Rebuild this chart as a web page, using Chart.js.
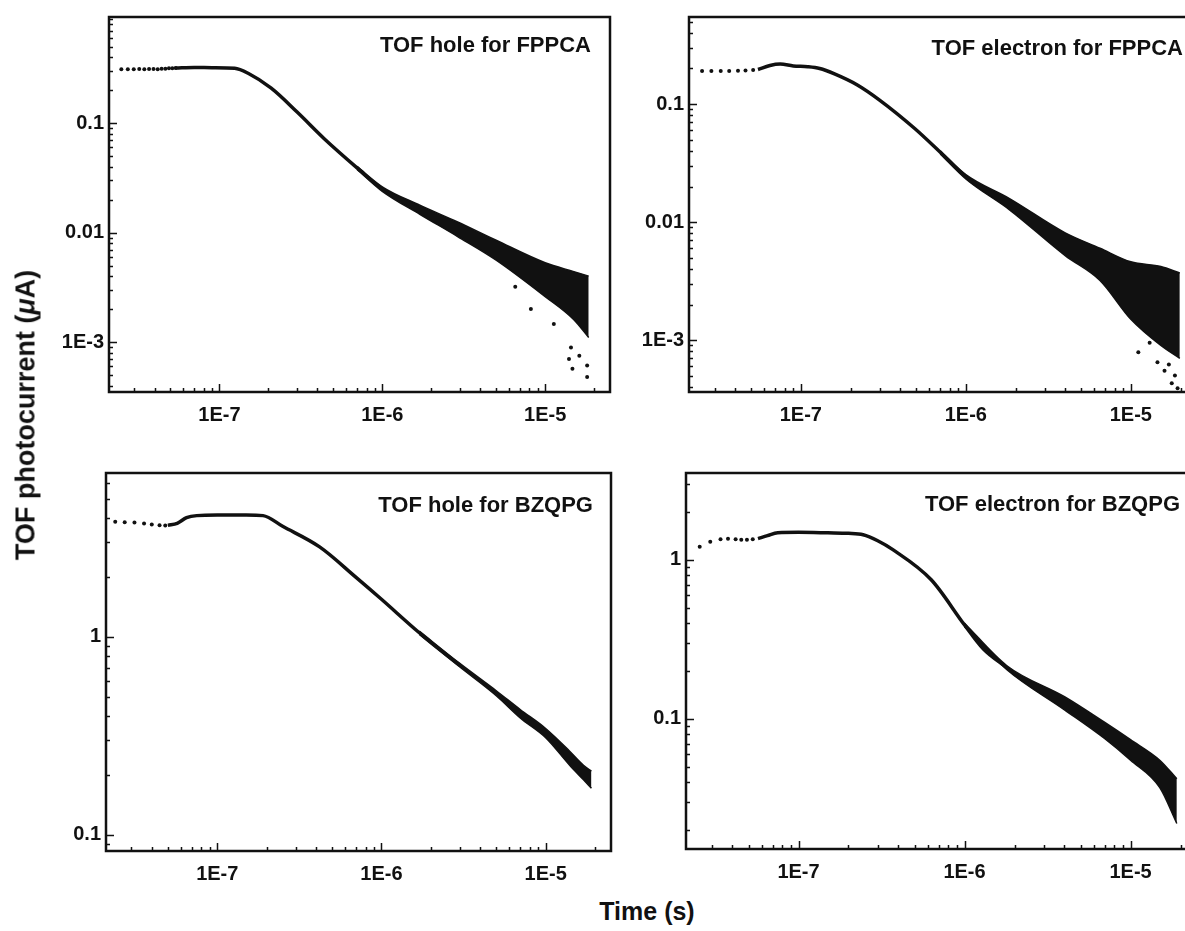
<!DOCTYPE html>
<html>
<head>
<meta charset="utf-8">
<script src="https://cdn.jsdelivr.net/npm/chart.js@4.4.1/dist/chart.umd.min.js"></script>
<style>
    body { margin: 0; background: #fff; }
    #page { position: relative; width: 1185px; height: 931px; overflow: hidden; background: #fff; }
    canvas { position: absolute; }
    .lbl {
        position: absolute;
        font-family: 'Liberation Sans', Arial, Helvetica, sans-serif;
        font-weight: bold;
        color: #111;
        white-space: nowrap;
        line-height: 1;
    }
    .panel-title { font-size: 22px; }
    .axis-title { font-size: 27px; }
</style>
</head>
<body>
<div id="page">
    <canvas id="hf" width="620" height="450" style="left:0px;top:-20px"></canvas>
    <canvas id="ef" width="620" height="450" style="left:600px;top:-20px"></canvas>
    <canvas id="hb" width="620" height="460" style="left:0px;top:430px"></canvas>
    <canvas id="eb" width="620" height="460" style="left:600px;top:430px"></canvas>

    <div class="lbl panel-title" style="right:594px;top:34px">TOF hole for FPPCA</div>
    <div class="lbl panel-title" style="right:2px;top:37px">TOF electron for FPPCA</div>
    <div class="lbl panel-title" style="right:592px;top:494px">TOF hole for BZQPG</div>
    <div class="lbl panel-title" style="right:5px;top:493px">TOF electron for BZQPG</div>

    <div class="lbl axis-title" style="left:26px;top:415px;transform:translate(-50%,-50%) rotate(-90deg)">TOF photocurrent (<i>&mu;</i>A)</div>
    <div class="lbl axis-title" style="left:647px;top:899px;transform:translateX(-50%);font-size:25px">Time (s)</div>
</div>

<script>
// Tick labels
const xTickValues = [1e-7, 1e-6, 1e-5];
const xTickLabels = ['1E-7', '1E-6', '1E-5'];
const fppcaTickValues = [1e-3, 1e-2, 1e-1];
const fppcaTickLabels = ['1E-3', '0.01', '0.1'];
const bzqpgTickValues = [0.1, 1];
const bzqpgTickLabels = ['0.1', '1'];

// TOF hole for FPPCA
const hfDotTime = [2.5e-8, 2.74e-8, 2.98e-8, 3.22e-8, 3.46e-8, 3.7e-8, 3.94e-8, 4.18e-8, 4.42e-8, 4.66e-8, 4.9e-8, 5.14e-8, 5.38e-8];
const hfDotCurr = [0.31, 0.31, 0.31, 0.312, 0.31, 0.312, 0.312, 0.31, 0.314, 0.314, 0.316, 0.316, 0.318];
const hfLineTime = [5.4e-8, 7e-8, 9e-8, 1.24e-7, 1.5e-7, 2.08e-7, 3e-7, 4.4e-7, 7e-7, 1e-6, 1.7e-6];
const hfLineCurr = [0.318, 0.322, 0.32, 0.316, 0.285, 0.208, 0.126, 0.072, 0.039, 0.025, 0.0162];
const hfBandTime = [7e-7, 1e-6, 1.7e-6, 2.9e-6, 5e-6, 1e-5, 1.5e-5, 1.85e-5];
const hfBandHigh = [0.0402, 0.0262, 0.0178, 0.0125, 0.0085, 0.0053, 0.0044, 0.0040];
const hfBandLow = [0.0378, 0.0238, 0.0147, 0.0092, 0.0056, 0.0026, 0.0016, 0.0011];
const hfOutTime = [6.55e-6, 8.17e-6, 1.13e-5, 1.44e-5, 1.40e-5, 1.47e-5, 1.62e-5, 1.81e-5, 1.81e-5];
const hfOutCurr = [0.0032, 0.002, 0.00146, 0.00089, 0.0007, 0.00057, 0.00075, 0.00061, 0.00048];

// TOF electron for FPPCA
const efDotTime = [2.52e-8, 2.87e-8, 3.27e-8, 3.68e-8, 4.16e-8, 4.62e-8, 5.14e-8];
const efDotCurr = [0.19, 0.19, 0.19, 0.19, 0.191, 0.192, 0.194];
const efLineTime = [5.5e-8, 6.5e-8, 7.5e-8, 9e-8, 1.1e-7, 1.3e-7, 1.6e-7, 2.2e-7, 3e-7, 4.9e-7, 7e-7, 1e-6, 1.84e-6];
const efLineCurr = [0.196, 0.212, 0.218, 0.21, 0.207, 0.2, 0.18, 0.145, 0.108, 0.062, 0.039, 0.0242, 0.0142];
const efBandTime = [7e-7, 1e-6, 1.84e-6, 4e-6, 6.5e-6, 1e-5, 1.52e-5, 1.98e-5];
const efBandHigh = [0.0402, 0.0252, 0.0158, 0.0081, 0.006, 0.0046, 0.0042, 0.0037];
const efBandLow = [0.0378, 0.0232, 0.0127, 0.0052, 0.0032, 0.0015, 0.0009, 0.0007];
const efOutTime = [1.11e-5, 1.3e-5, 1.45e-5, 1.6e-5, 1.7e-5, 1.77e-5, 1.85e-5, 1.92e-5];
const efOutCurr = [0.00079, 0.00095, 0.00065, 0.00055, 0.00062, 0.00043, 0.0005, 0.00039];

// TOF hole for BZQPG
const hbDotTime = [2.39e-8, 2.73e-8, 3.13e-8, 3.58e-8, 3.99e-8, 4.45e-8, 4.82e-8];
const hbDotCurr = [3.82, 3.8, 3.78, 3.74, 3.7, 3.67, 3.66];
const hbLineTime = [5e-8, 5.7e-8, 6.5e-8, 7.5e-8, 1e-7, 1.5e-7, 1.9e-7, 2.5e-7, 4.2e-7, 7e-7, 1e-6, 1.7e-6, 3e-6];
const hbLineCurr = [3.66, 3.75, 4.0, 4.1, 4.13, 4.13, 4.1, 3.62, 2.85, 2.0, 1.55, 1.05, 0.72];
const hbBandTime = [1.7e-6, 3e-6, 5e-6, 7e-6, 1e-5, 1.4e-5, 1.7e-5, 1.9e-5];
const hbBandHigh = [1.07, 0.735, 0.535, 0.43, 0.345, 0.265, 0.225, 0.21];
const hbBandLow = [1.03, 0.705, 0.505, 0.39, 0.31, 0.225, 0.19, 0.172];

// TOF electron for BZQPG
const ebDotTime = [2.54e-8, 2.94e-8, 3.39e-8, 3.76e-8, 4.18e-8, 4.52e-8, 4.89e-8, 5.3e-8];
const ebDotCurr = [1.21, 1.30, 1.35, 1.36, 1.35, 1.34, 1.34, 1.35];
const ebLineTime = [5.7e-8, 6.5e-8, 7.5e-8, 1e-7, 1.5e-7, 2e-7, 2.45e-7, 3e-7, 3.7e-7, 6.3e-7, 1e-6, 1.3e-6, 1.8e-6];
const ebLineCurr = [1.36, 1.42, 1.48, 1.49, 1.48, 1.47, 1.44, 1.32, 1.16, 0.75, 0.39, 0.275, 0.21];
const ebBandTime = [1e-6, 1.8e-6, 4e-6, 7e-6, 1e-5, 1.5e-5, 1.9e-5];
const ebBandHigh = [0.4, 0.216, 0.138, 0.095, 0.074, 0.055, 0.042];
const ebBandLow = [0.38, 0.204, 0.114, 0.075, 0.055, 0.037, 0.022];

const INK = '#111';
const FONT = "'Liberation Sans', Arial, Helvetica, sans-serif";

function pts(times, values) {
    return times.map((t, i) => ({ x: t, y: values[i] }));
}

function isDecade(v) {
    const e = Math.log10(v);
    return Math.abs(e - Math.round(e)) < 1e-6;
}

// minor ticks at 1..9 of every decade inside the axis range
function logTicks(min, max) {
    const out = [];
    for (let e = Math.floor(Math.log10(min)); e <= Math.ceil(Math.log10(max)); e++) {
        for (let k = 1; k <= 9; k++) {
            const v = k * Math.pow(10, e);
            if (v >= min && v <= max) out.push({ value: v });
        }
    }
    return out;
}

function labelFor(values, labels) {
    return (v) => {
        const i = values.findIndex(t => Math.abs(t - v) / t < 1e-6);
        return i < 0 ? '' : labels[i];
    };
}

// box frame plus inward tick marks
const frameTicks = {
    id: 'frameTicks',
    afterDraw(chart) {
        const { ctx, chartArea: a, scales: { x, y } } = chart;
        ctx.save();
        ctx.strokeStyle = INK;
        ctx.lineWidth = 1.5;
        ctx.beginPath();
        x.ticks.forEach(t => {
            const px = Math.round(x.getPixelForValue(t.value)) + 0.5;
            const len = isDecade(t.value) ? 8 : 4;
            ctx.moveTo(px, a.bottom);
            ctx.lineTo(px, a.bottom - len);
        });
        y.ticks.forEach(t => {
            const py = Math.round(y.getPixelForValue(t.value)) + 0.5;
            const len = isDecade(t.value) ? 8 : 4;
            ctx.moveTo(a.left, py);
            ctx.lineTo(a.left + len, py);
        });
        ctx.stroke();
        ctx.lineWidth = 2.5;
        ctx.strokeRect(a.left, a.top, a.right - a.left, a.bottom - a.top);
        ctx.restore();
    }
};

const panels = [
    { id: 'hf', dotT: hfDotTime, dotI: hfDotCurr, lineT: hfLineTime, lineI: hfLineCurr,
      bandT: hfBandTime, bandHi: hfBandHigh, bandLo: hfBandLow, outT: hfOutTime, outI: hfOutCurr,
      yMin: 3.5e-4, yMax: 0.93, yTicks: fppcaTickValues, yLabels: fppcaTickLabels,
      padTop: 37, padRight: 10, yWidth: 109, xHeight: 38 },
    { id: 'ef', dotT: efDotTime, dotI: efDotCurr, lineT: efLineTime, lineI: efLineCurr,
      bandT: efBandTime, bandHi: efBandHigh, bandLo: efBandLow, outT: efOutTime, outI: efOutCurr,
      yMin: 3.63e-4, yMax: 0.546, yTicks: fppcaTickValues, yLabels: fppcaTickLabels,
      padTop: 37, padRight: 23.5, yWidth: 89, xHeight: 38 },
    { id: 'hb', dotT: hbDotTime, dotI: hbDotCurr, lineT: hbLineTime, lineI: hbLineCurr,
      bandT: hbBandTime, bandHi: hbBandHigh, bandLo: hbBandLow, outT: [], outI: [],
      yMin: 0.083, yMax: 6.73, yTicks: bzqpgTickValues, yLabels: bzqpgTickLabels,
      padTop: 43, padRight: 9, yWidth: 106, xHeight: 39 },
    { id: 'eb', dotT: ebDotTime, dotI: ebDotCurr, lineT: ebLineTime, lineI: ebLineCurr,
      bandT: ebBandTime, bandHi: ebBandHigh, bandLo: ebBandLow, outT: [], outI: [],
      yMin: 0.0152, yMax: 3.52, yTicks: bzqpgTickValues, yLabels: bzqpgTickLabels,
      padTop: 43, padRight: 23.4, yWidth: 86, xHeight: 41 }
];

const tickFont = { family: FONT, size: 20, weight: 'bold' };

panels.forEach(p => {
    const ctx = document.getElementById(p.id).getContext('2d');
    new Chart(ctx, {
        type: 'line',
        data: {
            datasets: [
                { data: pts(p.bandT, p.bandHi), borderColor: INK, borderWidth: 1.5, pointRadius: 0,
                  cubicInterpolationMode: 'monotone', fill: false },
                { data: pts(p.bandT, p.bandLo), borderColor: INK, borderWidth: 1.5, pointRadius: 0,
                  cubicInterpolationMode: 'monotone', fill: '-1', backgroundColor: INK },
                { data: pts(p.lineT, p.lineI), borderColor: INK, borderWidth: 3.5, pointRadius: 0,
                  cubicInterpolationMode: 'monotone', fill: false },
                { data: pts(p.dotT, p.dotI), showLine: false, pointRadius: 2, pointBorderWidth: 0,
                  pointBackgroundColor: INK },
                { data: pts(p.outT, p.outI), showLine: false, pointRadius: 2, pointBorderWidth: 0,
                  pointBackgroundColor: INK }
            ]
        },
        options: {
            responsive: false,
            animation: false,
            events: [],
            layout: { padding: { top: p.padTop, right: p.padRight, left: 0, bottom: 0 } },
            plugins: {
                legend: { display: false },
                tooltip: { enabled: false }
            },
            scales: {
                x: {
                    type: 'logarithmic',
                    min: 2.1e-8,
                    max: 2.5e-5,
                    grid: { display: false, drawTicks: false },
                    border: { display: false },
                    afterBuildTicks: s => { s.ticks = logTicks(s.min, s.max); },
                    afterFit: s => { s.height = p.xHeight; },
                    ticks: {
                        autoSkip: false, maxRotation: 0, padding: 11, color: INK, font: tickFont,
                        callback: labelFor(xTickValues, xTickLabels)
                    }
                },
                y: {
                    type: 'logarithmic',
                    min: p.yMin,
                    max: p.yMax,
                    grid: { display: false, drawTicks: false },
                    border: { display: false },
                    afterBuildTicks: s => { s.ticks = logTicks(s.min, s.max); },
                    afterFit: s => { s.width = p.yWidth; },
                    ticks: {
                        autoSkip: false, padding: 5, color: INK, font: tickFont,
                        callback: labelFor(p.yTicks, p.yLabels)
                    }
                }
            }
        },
        plugins: [frameTicks]
    });
});
</script>
</body>
</html>
